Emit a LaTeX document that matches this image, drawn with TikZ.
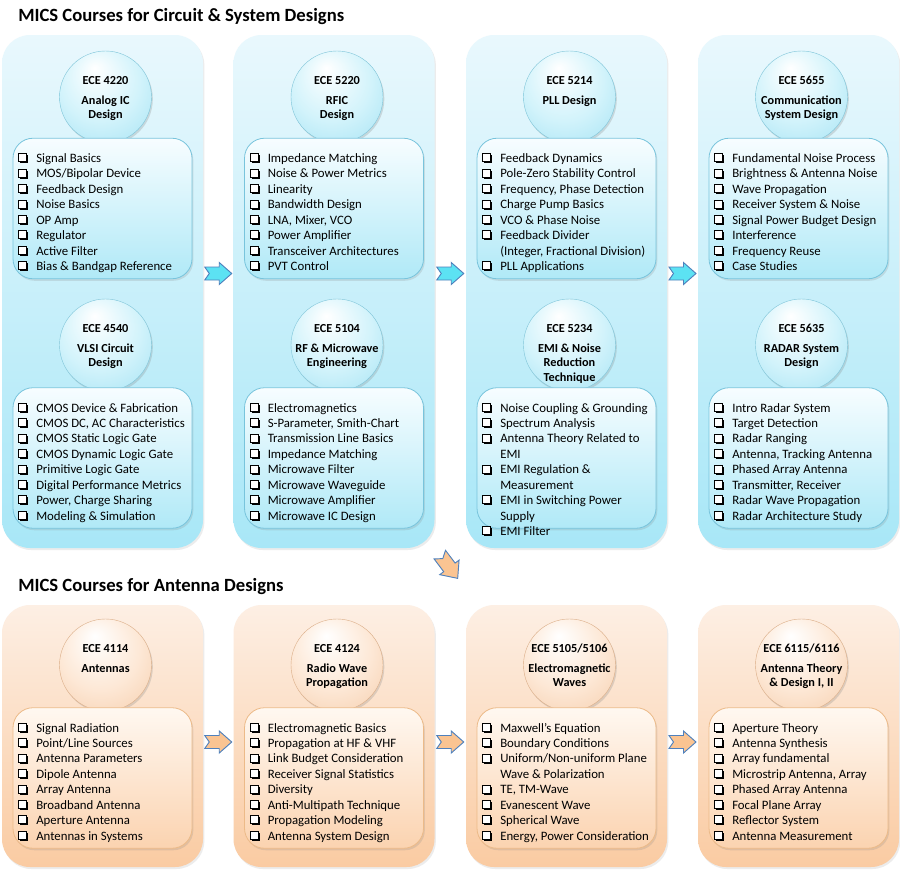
\documentclass[tikz,border=0pt]{standalone}
\usepackage{fontspec}
\setmainfont{Carlito}
\usetikzlibrary{shadows,calc}
\definecolor{pcT}{RGB}{233,248,253}
\definecolor{pcB}{RGB}{168,231,247}
\definecolor{bcT}{RGB}{247,253,255}
\definecolor{bcB}{RGB}{176,233,247}
\definecolor{bcD}{RGB}{120,196,220}
\definecolor{ccM}{RGB}{210,243,251}
\definecolor{ccE}{RGB}{140,218,240}
\definecolor{acF}{RGB}{92,226,243}
\definecolor{poT}{RGB}{253,239,228}
\definecolor{poB}{RGB}{250,203,162}
\definecolor{boT}{RGB}{255,248,241}
\definecolor{boB}{RGB}{251,211,176}
\definecolor{boD}{RGB}{236,186,136}
\definecolor{coM}{RGB}{253,232,214}
\definecolor{coE}{RGB}{242,192,150}
\definecolor{aoF}{RGB}{250,196,146}
\definecolor{aD}{RGB}{79,129,189}
\pgfdeclareradialshading{ballC}{\pgfpoint{-6bp}{16bp}}{color(0bp)=(white); color(22bp)=(ccM); color(50bp)=(ccE)}
\pgfdeclareradialshading{ballO}{\pgfpoint{-6bp}{16bp}}{color(0bp)=(white); color(22bp)=(coM); color(50bp)=(coE)}
\newcommand\qbox{\tikz[baseline=0pt]{\fill[black] (1.2pt,-0.6pt) rectangle (7.2pt,5.4pt); \filldraw[fill=white,draw=black,line width=0.6pt] (0pt,0.6pt) rectangle (6pt,6.6pt);}}
\newcommand\qi{\makebox[13.5pt][l]{\qbox}}
\newcommand\qc{\hspace*{13.5pt}}
\tikzset{
  panelC/.style={rounded corners=21pt, minimum width=150.75pt, minimum height=384.75pt, inner sep=0pt,
    top color=pcT, bottom color=pcB, drop shadow={opacity=0.15, shadow xshift=1pt, shadow yshift=-1.5pt}},
  panelO/.style={rounded corners=21pt, minimum width=150.75pt, minimum height=196.5pt, inner sep=0pt,
    top color=poT, bottom color=poB, drop shadow={opacity=0.15, shadow xshift=1pt, shadow yshift=-1.5pt}},
  discC/.style={circle, minimum size=69pt, inner sep=0pt, shade, shading=ballC, draw=ccE!90!black, line width=0.3pt,
    drop shadow={opacity=0.25, shadow xshift=1pt, shadow yshift=-1.5pt}},
  discO/.style={circle, minimum size=69pt, inner sep=0pt, shade, shading=ballO, draw=coE!90!black, line width=0.3pt,
    drop shadow={opacity=0.25, shadow xshift=1pt, shadow yshift=-1.5pt}},
  boxC/.style={rounded corners=15pt, minimum width=134.25pt, minimum height=105.4pt, inner sep=0pt,
    draw=bcD, line width=0.6pt, top color=bcT, bottom color=bcB,
    drop shadow={opacity=0.2, shadow xshift=1pt, shadow yshift=-1.5pt}},
  boxO/.style={rounded corners=15pt, minimum width=134.25pt, minimum height=105.4pt, inner sep=0pt,
    draw=boD, line width=0.6pt, top color=boT, bottom color=boB,
    drop shadow={opacity=0.2, shadow xshift=1pt, shadow yshift=-1.5pt}},
  ctxt/.style={font=\bfseries\fontsize{9.2}{11}\selectfont, anchor=base, inner sep=0pt},
  itm/.style={font=\fontsize{9.6}{11.5}\selectfont, anchor=base west, inner sep=0pt},
  ttl/.style={font=\bfseries\fontsize{14}{17}\selectfont, anchor=base west, inner sep=0pt},
  narrow/.pic={\filldraw[pic actions] (-13.5,-6.5) -- (1,-6.5) -- (1,-11) -- (13.5,0) -- (1,11) -- (1,6.5) -- (-13.5,6.5) -- (-9,0) -- cycle;}
}
% #1 id, #2 panel centre x, #3 circle y, #4 box y, #5 C/O, #6 code, #7 title lines, #8 topics
\newcommand\unit[8]{%
  \node[disc#5] (#1c) at (#2+3,#3) {};
  \node[ctxt] (#1code) at (#2+3,#3-13) {#6};
  \foreach \t [count=\i] in {#7} \node[ctxt] (#1t\i) at (#2+3,{#3+7+14.5*(\i-1)}) {\t};
  \node[box#5] (#1b) at (#2,#4) {};
  \foreach \t [count=\i] in {#8} \node[itm] (#1i\i) at (#2-84.5,{#4-46+15.43*(\i-1)}) {\t};
}
\begin{document}
\begin{tikzpicture}[x=0.75pt,y=-0.75pt]
\useasboundingbox (0,0) rectangle (900,871);
\fill[white] (0,0) rectangle (900,871);
\node[ttl] (title1) at (18,21.5) {MICS Courses for Circuit \& System Designs};
\node[ttl] (title2) at (18,591.5) {MICS Courses for Antenna Designs};
% panels
\node[panelC] (p1) at (102.5,291.5) {};
\node[panelC] (p2) at (334,291.5) {};
\node[panelC] (p3) at (566.5,291.5) {};
\node[panelC] (p4) at (798.5,291.5) {};
\node[panelO] (p5) at (102.5,736) {};
\node[panelO] (p6) at (334,736) {};
\node[panelO] (p7) at (566.5,736) {};
\node[panelO] (p8) at (798.5,736) {};
% panel 1
\unit{u1}{102.5}{97}{208.5}{C}{ECE 4220}{Analog IC, Design}{\qi Signal Basics, \qi MOS/Bipolar Device, \qi Feedback Design, \qi Noise Basics, \qi OP Amp, \qi Regulator, \qi Active Filter, \qi Bias \& Bandgap Reference}
\unit{u2}{102.5}{345}{458}{C}{ECE 4540}{VLSI Circuit, Design}{\qi CMOS Device \& Fabrication, {\qi CMOS DC, AC Characteristics}, \qi CMOS Static Logic Gate, \qi CMOS Dynamic Logic Gate, \qi Primitive Logic Gate, \qi Digital Performance Metrics, {\qi Power, Charge Sharing}, \qi Modeling \& Simulation}
% panel 2
\unit{u3}{334}{97}{208.5}{C}{ECE 5220}{RFIC, Design}{\qi Impedance Matching, \qi Noise \& Power Metrics, \qi Linearity, \qi Bandwidth Design, {\qi LNA, Mixer, VCO}, \qi Power Amplifier, \qi Transceiver Architectures, \qi PVT Control}
\unit{u4}{334}{345}{458}{C}{ECE 5104}{RF \& Microwave, Engineering}{\qi Electromagnetics, {\qi S-Parameter, Smith-Chart}, \qi Transmission Line Basics, \qi Impedance Matching, \qi Microwave Filter, \qi Microwave Waveguide, \qi Microwave Amplifier, \qi Microwave IC Design}
% panel 3
\unit{u5}{566.5}{97}{208.5}{C}{ECE 5214}{PLL Design}{\qi Feedback Dynamics, \qi Pole-Zero Stability Control, {\qi Frequency, Phase Detection}, \qi Charge Pump Basics, \qi VCO \& Phase Noise, \qi Feedback Divider, {\qc (Integer, Fractional Division)}, \qi PLL Applications}
\unit{u6}{566.5}{345}{458}{C}{ECE 5234}{EMI \& Noise, Reduction, Technique}{\qi Noise Coupling \& Grounding, \qi Spectrum Analysis, \qi Antenna Theory Related to, \qc EMI, \qi EMI Regulation \&, \qc Measurement, \qi EMI in Switching Power, \qc Supply, \qi EMI Filter}
% panel 4
\unit{u7}{798.5}{97}{208.5}{C}{ECE 5655}{Communication, System Design}{\qi Fundamental Noise Process, \qi Brightness \& Antenna Noise, \qi Wave Propagation, \qi Receiver System \& Noise, \qi Signal Power Budget Design, \qi Interference, \qi Frequency Reuse, \qi Case Studies}
\unit{u8}{798.5}{345}{458}{C}{ECE 5635}{RADAR System, Design}{\qi Intro Radar System, \qi Target Detection, \qi Radar Ranging, {\qi Antenna, Tracking Antenna}, \qi Phased Array Antenna, {\qi Transmitter, Receiver}, \qi Radar Wave Propagation, \qi Radar Architecture Study}
% antenna row
\unit{u9}{102.5}{665}{778}{O}{ECE 4114}{Antennas}{\qi Signal Radiation, \qi Point/Line Sources, \qi Antenna Parameters, \qi Dipole Antenna, \qi Array Antenna, \qi Broadband Antenna, \qi Aperture Antenna, \qi Antennas in Systems}
\unit{u10}{334}{665}{778}{O}{ECE 4124}{Radio Wave, Propagation}{\qi Electromagnetic Basics, \qi Propagation at HF \& VHF, \qi Link Budget Consideration, \qi Receiver Signal Statistics, \qi Diversity, \qi Anti-Multipath Technique, \qi Propagation Modeling, \qi Antenna System Design}
\unit{u11}{566.5}{665}{778}{O}{ECE 5105/5106}{Electromagnetic, Waves}{\qi Maxwell’s Equation, \qi Boundary Conditions, \qi Uniform/Non-uniform Plane, \qc Wave \& Polarization, {\qi TE, TM-Wave}, \qi Evanescent Wave, \qi Spherical Wave, {\qi Energy, Power Consideration}}
\unit{u12}{798.5}{665}{778}{O}{ECE 6115/6116}{Antenna Theory, {\& Design I, II}}{\qi Aperture Theory, \qi Antenna Synthesis, \qi Array fundamental, {\qi Microstrip Antenna, Array}, \qi Phased Array Antenna, \qi Focal Plane Array, \qi Reflector System, \qi Antenna Measurement}
% arrows
\pic[fill=acF, draw=aD, line width=0.7pt] (a1) at ($(p1.east)!0.5!(p2.west)+(0,-18)$) {narrow};
\pic[fill=acF, draw=aD, line width=0.7pt] (a2) at ($(p2.east)!0.5!(p3.west)+(0,-18)$) {narrow};
\pic[fill=acF, draw=aD, line width=0.7pt] (a3) at ($(p3.east)!0.5!(p4.west)+(0,-18)$) {narrow};
\pic[fill=aoF, draw=aD, line width=0.7pt] (a4) at ($(p5.east)!0.5!(p6.west)+(0,6)$) {narrow};
\pic[fill=aoF, draw=aD, line width=0.7pt] (a5) at ($(p6.east)!0.5!(p7.west)+(0,6)$) {narrow};
\pic[fill=aoF, draw=aD, line width=0.7pt] (a6) at ($(p7.east)!0.5!(p8.west)+(0,6)$) {narrow};
\pic[fill=aoF, draw=aD, line width=0.7pt, rotate=-53, scale=1.1] (a7) at ($(p2.south east)!0.5!(p7.north west)+(-1.5,-10)$) {narrow};
\end{tikzpicture}
\end{document}
